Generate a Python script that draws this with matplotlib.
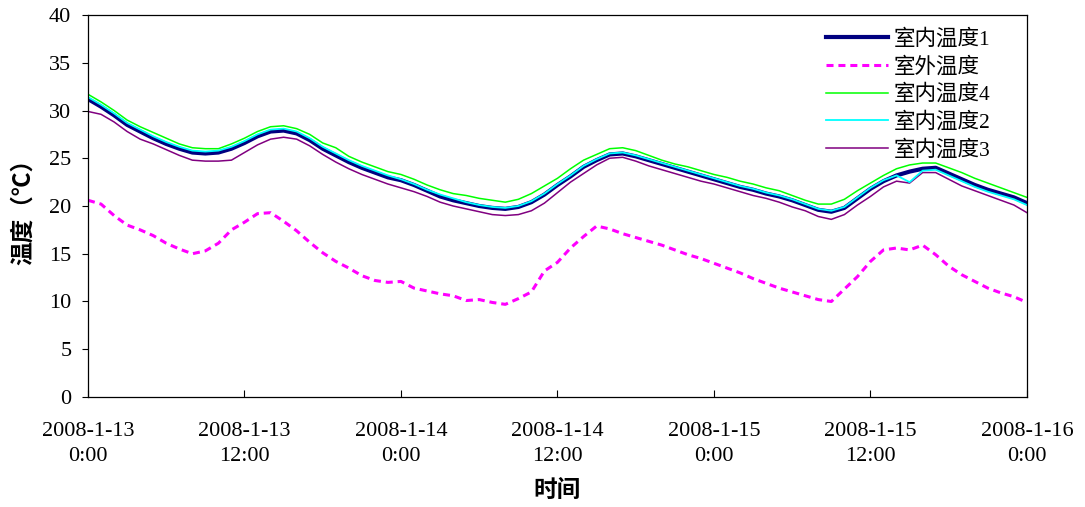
import matplotlib
matplotlib.use("Agg")
import matplotlib.pyplot as plt
import numpy as np

plt.rcParams['font.family'] = ['Liberation Serif', 'Noto Sans CJK SC']

# hourly readings, 2008-1-13 0:00 .. 2008-1-16 0:00
hours = np.arange(0, 73)

indoor1 = [31.2, 30.4, 29.5, 28.5, 27.8, 27.1, 26.5, 26.0, 25.6, 25.5,
           25.6, 26.0, 26.6, 27.3, 27.8, 27.9, 27.6, 26.9, 26.0, 25.3,
           24.6, 24.0, 23.5, 23.0, 22.7, 22.2, 21.6, 21.0, 20.6, 20.3,
           20.0, 19.8, 19.7, 19.9, 20.4, 21.2, 22.2, 23.1, 24.1, 24.8,
           25.4, 25.5, 25.2, 24.8, 24.4, 24.0, 23.6, 23.2, 22.8, 22.4,
           22.0, 21.7, 21.3, 21.0, 20.6, 20.1, 19.6, 19.4, 19.8, 20.8,
           21.8, 22.6, 23.2, 23.6, 23.9, 24.0, 23.4, 22.8, 22.2, 21.7,
           21.3, 20.9, 20.3]

indoor2 = [31.4, 30.6, 29.7, 28.7, 28.0, 27.3, 26.7, 26.2, 25.8, 25.7,
           25.8, 26.2, 26.8, 27.5, 28.0, 28.1, 27.8, 27.1, 26.2, 25.5,
           24.8, 24.2, 23.7, 23.2, 22.8, 22.3, 21.7, 21.2, 20.8, 20.4,
           20.1, 19.9, 19.8, 20.0, 20.5, 21.3, 22.3, 23.2, 24.2, 24.9,
           25.5, 25.6, 25.3, 24.9, 24.5, 24.1, 23.7, 23.3, 22.9, 22.5,
           22.1, 21.8, 21.4, 21.1, 20.7, 20.2, 19.7, 19.5, 19.9, 20.9,
           21.9, 22.7, 23.2, 22.5, 23.7, 23.8, 23.2, 22.6, 22.0, 21.5,
           21.1, 20.7, 20.1]

indoor3 = [29.9, 29.6, 28.8, 27.8, 27.0, 26.5, 25.9, 25.3, 24.8, 24.7,
           24.7, 24.8, 25.6, 26.4, 27.0, 27.2, 27.0, 26.3, 25.4, 24.6,
           23.9, 23.3, 22.8, 22.3, 21.9, 21.5, 21.0, 20.4, 20.0, 19.7,
           19.4, 19.1, 19.0, 19.1, 19.5, 20.3, 21.4, 22.5, 23.4, 24.3,
           25.0, 25.1, 24.7, 24.2, 23.8, 23.4, 23.0, 22.6, 22.3, 21.9,
           21.5, 21.1, 20.8, 20.4, 19.9, 19.5, 18.9, 18.6, 19.1, 20.1,
           21.0, 22.0, 22.6, 22.4, 23.5, 23.5, 22.8, 22.1, 21.6, 21.1,
           20.6, 20.1, 19.3]

indoor4 = [31.7, 30.9, 30.0, 29.0, 28.3, 27.7, 27.1, 26.5, 26.1, 26.0,
           26.0, 26.5, 27.1, 27.8, 28.3, 28.4, 28.1, 27.5, 26.6, 26.1,
           25.2, 24.6, 24.1, 23.6, 23.3, 22.8, 22.2, 21.7, 21.3, 21.1,
           20.8, 20.6, 20.4, 20.7, 21.3, 22.1, 22.9, 23.9, 24.8, 25.4,
           26.0, 26.1, 25.8, 25.3, 24.8, 24.4, 24.1, 23.7, 23.3, 23.0,
           22.6, 22.3, 21.9, 21.6, 21.1, 20.6, 20.2, 20.2, 20.7, 21.6,
           22.4, 23.2, 23.9, 24.3, 24.5, 24.5, 24.0, 23.5, 22.9, 22.4,
           21.9, 21.4, 20.9]

outdoor = [20.6, 20.2, 19.0, 18.0, 17.5, 16.9, 16.1, 15.5, 15.0, 15.3,
           16.1, 17.5, 18.3, 19.2, 19.3, 18.4, 17.4, 16.2, 15.1, 14.2,
           13.5, 12.7, 12.2, 12.0, 12.1, 11.4, 11.1, 10.8, 10.6, 10.1,
           10.2, 9.9, 9.7, 10.3, 11.0, 13.2, 14.1, 15.6, 16.8, 17.9,
           17.6, 17.1, 16.7, 16.3, 15.9, 15.4, 14.9, 14.5, 14.0, 13.5,
           13.0, 12.4, 11.9, 11.4, 11.0, 10.6, 10.2, 10.0, 11.3, 12.6,
           14.2, 15.4, 15.6, 15.4, 15.9, 14.9, 13.7, 12.8, 12.1, 11.4,
           10.9, 10.5, 9.9]

tick_hours = [0, 12, 24, 36, 48, 60, 72]
tick_labels = ['2008-1-13\n0:00', '2008-1-13\n12:00', '2008-1-14\n0:00',
               '2008-1-14\n12:00', '2008-1-15\n0:00', '2008-1-15\n12:00',
               '2008-1-16\n0:00']


def main():
    fig = plt.figure(figsize=(10.85, 5.07), dpi=100)
    ax = fig.add_axes([0.0811, 0.2170, 0.8654, 0.7534])

    l1, = ax.plot(hours, indoor1, color='#000080', lw=3.0, label='室内温度1')
    l5, = ax.plot(hours, outdoor, color='#FF00FF', lw=2.2,
                  linestyle=(0, (2.3, 1.6)), label='室外温度')
    l3, = ax.plot(hours, indoor3, color='#800080', lw=1.1, label='室内温度3')
    l4, = ax.plot(hours, indoor4, color='#00FF00', lw=1.1, label='室内温度4')
    l2, = ax.plot(hours, indoor2, color='#00FFFF', lw=1.3, label='室内温度2')

    ax.set_xlim(0, 72)
    ax.set_ylim(0, 40)
    ax.set_yticks(np.arange(0, 41, 5))
    ax.set_xticks(tick_hours)
    ax.set_xticklabels(tick_labels, linespacing=1.4)

    ax.tick_params(axis='y', direction='out', length=4, width=0.8,
                   pad=8, labelsize=16)
    ax.tick_params(axis='x', direction='in', length=5, width=0.8,
                   pad=18, labelsize=16)
    for s in ax.spines.values():
        s.set_linewidth(0.9)

    ax.set_ylabel('温度（℃）', fontsize=17, fontweight='bold',
                  family=['Noto Sans CJK SC'], labelpad=10)
    ax.set_xlabel('时间', fontsize=17, fontweight='bold',
                  family=['Noto Sans CJK SC'], labelpad=9)

    ax.legend(handles=[l1, l5, l4, l2, l3], loc='upper left',
              bbox_to_anchor=(0.747, 0.972), bbox_transform=fig.transFigure,
              frameon=False, fontsize=15.5, handlelength=2.9,
              handletextpad=0.25, labelspacing=0.33, borderpad=0.2)

    fig.savefig('out.png', dpi=100)


if __name__ == '__main__':
    main()
